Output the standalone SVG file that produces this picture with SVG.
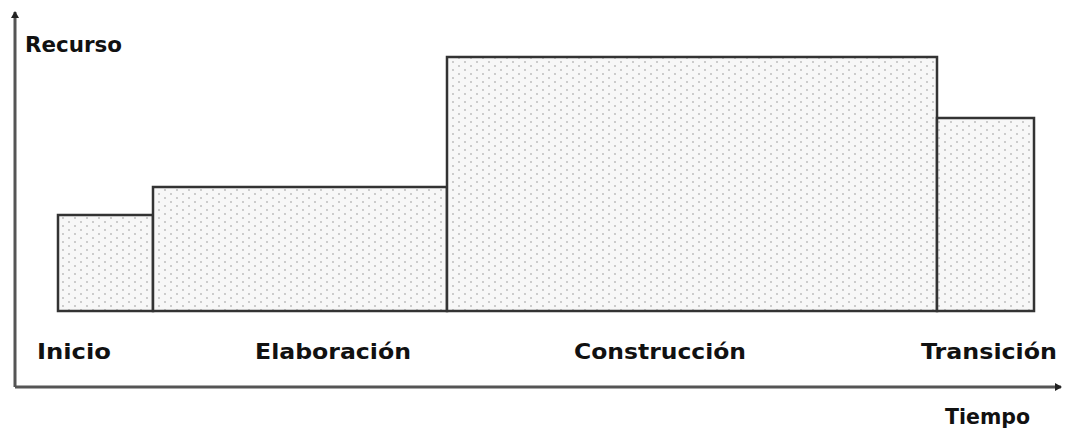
<svg xmlns="http://www.w3.org/2000/svg" width="1067" height="434" viewBox="0 0 1067 434">
<style>
.bar{fill:url(#dots);stroke:#333;stroke-width:2.5}
.lbl{font-family:"DejaVu Sans",Verdana,sans-serif;font-weight:bold;font-size:21px;fill:#111}
.axis{stroke:#555;stroke-width:3;fill:none}
</style>
<defs>
<pattern id="dots" width="12" height="8" patternUnits="userSpaceOnUse">
<rect width="12" height="8" fill="#f7f7f7"/>
<circle cx="3" cy="2" r="0.9" fill="#b8b8b8"/>
<circle cx="9" cy="6" r="0.9" fill="#b8b8b8"/>
</pattern>
<marker id="ah" markerWidth="8" markerHeight="8" refX="6" refY="4" orient="auto" markerUnits="userSpaceOnUse">
<path d="M0,0 L7,4 L0,8 Z" fill="#222"/>
</marker>
</defs>
<g id="connectors">
<path class="axis" d="M15,387 L15,12" marker-end="url(#ah)"/>
<path class="axis" d="M15,387 L1061,387" marker-end="url(#ah)"/>
</g>
<g id="inicio"><rect class="bar" x="58" y="215" width="95" height="96"/></g>
<g id="elaboracion"><rect class="bar" x="153" y="187" width="294" height="124"/></g>
<g id="construccion"><rect class="bar" x="447" y="57" width="490" height="254"/></g>
<g id="transicion"><rect class="bar" x="937" y="118" width="97" height="193"/></g>
<g id="labels">
<text class="lbl" x="25" y="52" font-size="20" textLength="97" lengthAdjust="spacingAndGlyphs">Recurso</text>
<text class="lbl" x="37" y="359" textLength="74" lengthAdjust="spacingAndGlyphs">Inicio</text>
<text class="lbl" x="255" y="359" textLength="156" lengthAdjust="spacingAndGlyphs">Elaboración</text>
<text class="lbl" x="574" y="359" textLength="172" lengthAdjust="spacingAndGlyphs">Construcción</text>
<text class="lbl" x="921" y="359" textLength="136" lengthAdjust="spacingAndGlyphs">Transición</text>
<text class="lbl" x="945" y="424" font-size="20" textLength="85" lengthAdjust="spacingAndGlyphs">Tiempo</text>
</g>
</svg>
